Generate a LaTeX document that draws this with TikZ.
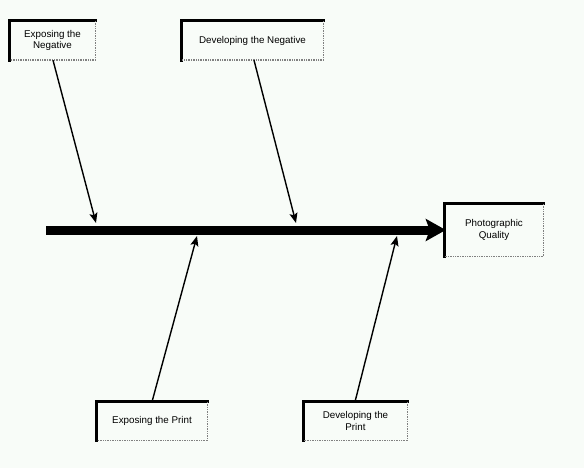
\documentclass[tikz,border=0pt]{standalone}
\usepackage{fontspec}
\setmainfont{Liberation Sans}
\usetikzlibrary{arrows.meta}
\definecolor{bgc}{RGB}{248,252,248}
\tikzset{
  fbox/.style={rectangle, inner sep=0pt, align=center, font=\fontsize{9.8}{11.5}\selectfont},
  branch/.style={line width=1.4pt, -{Stealth[length=10pt,width=8pt,inset=2pt]}},
  spine/.style={line width=9pt, -{Stealth[length=20pt,width=22pt,inset=4pt]}, shorten >=-1pt},
}
\newcommand{\boxborder}[1]{%
  \draw[line width=3pt, line cap=rect] (#1.south west) -- (#1.north west) -- (#1.north east);
  \draw[gray, line width=1.4pt, densely dotted] (#1.north east) -- (#1.south east) -- (#1.south west);
}
\begin{document}
\begin{tikzpicture}[x=1pt,y=-1pt]
\fill[bgc] (0,0) rectangle (584,468);
\useasboundingbox (0,0) rectangle (584,468);
% boxes (x1,y1)-(x2,y2) pixel coords
\node[fbox, minimum width=85pt, minimum height=39pt] (en) at (52.5,40.5) {Exposing the\\Negative};
\node[fbox, minimum width=141pt, minimum height=39pt] (dn) at (252.5,40.5) {Developing the Negative};
\node[fbox, minimum width=98pt, minimum height=52pt] (pq) at (494,230) {Photographic\\Quality};
\node[fbox, minimum width=110pt, minimum height=38pt] (ep) at (152,421) {Exposing the Print};
\node[fbox, minimum width=103pt, minimum height=38pt] (dp) at (355.5,421) {Developing the\\Print};
\boxborder{en}
\boxborder{dn}
\boxborder{pq}
\boxborder{ep}
\boxborder{dp}
% spine
\coordinate (tail) at (46,230);
\draw[spine] (tail) -- (pq.west);
% branch endpoints on spine
\coordinate (s1) at (96,223);
\coordinate (s2) at (296,223);
\coordinate (s3) at (197,236);
\coordinate (s4) at (397,236);
\draw[branch] (en.south -| 53,0) -- (s1);
\draw[branch] (dn.south -| 254,0) -- (s2);
\draw[branch] (ep.north -| 152,0) -- (s3);
\draw[branch] (dp.north -| 355,0) -- (s4);
\end{tikzpicture}
\end{document}
